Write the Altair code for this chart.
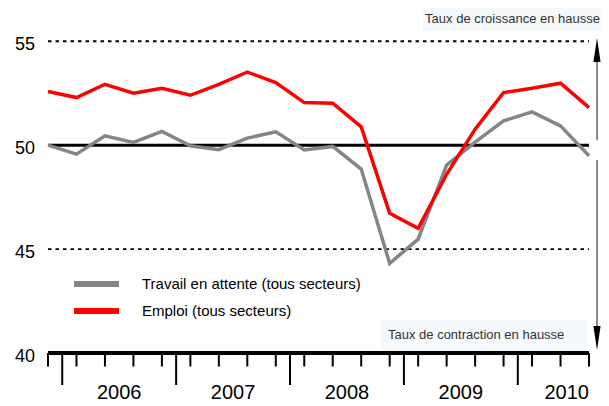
import altair as alt
import pandas as pd

# ---- data ----
periods = ["2005-T4",
           "2006-T1", "2006-T2", "2006-T3", "2006-T4",
           "2007-T1", "2007-T2", "2007-T3", "2007-T4",
           "2008-T1", "2008-T2", "2008-T3", "2008-T4",
           "2009-T1", "2009-T2", "2009-T3", "2009-T4",
           "2010-T1", "2010-T2", "2010-T3"]
travail = [50.0, 49.57, 50.45, 50.13, 50.66, 49.97, 49.78, 50.34, 50.64, 49.77,
           49.94, 48.85, 44.31, 45.48, 49.04, 50.15, 51.17, 51.6, 50.93, 49.49]
emploi = [52.58, 52.29, 52.93, 52.5, 52.74, 52.4, 52.93, 53.52, 53.01, 52.05,
          52.02, 50.88, 46.72, 46.0, 48.6, 50.77, 52.53, 52.74, 52.98, 51.81]
series_names = ["Travail en attente (tous secteurs)", "Emploi (tous secteurs)"]
series_colors = ["#858585", "#ff0000"]
y_ticks = [40, 45, 50, 55]
dashed_levels = [45, 55]
neutral_level = 50
note_up = "Taux de croissance en hausse"
note_down = "Taux de contraction en hausse"

# ---- layout ----
W, H = 541, 345
ydom = [40, 56.6]
xdom = [0, len(periods) - 1]
ppu = H / (ydom[1] - ydom[0])          # pixels per y unit
ppx = W / (xdom[1] - xdom[0])          # pixels per x unit
xs = alt.Scale(domain=xdom, nice=False, zero=False)
ys = alt.Scale(domain=ydom, nice=False, zero=False)
FONT = "Liberation Sans, Arial, Helvetica, sans-serif"

def X(f="x"):
    return alt.X(f"{f}:Q", scale=xs, axis=None)

def Y(f="y"):
    return alt.Y(f"{f}:Q", scale=ys, axis=None)

idx = list(range(len(periods)))
rows = []
for i, p in enumerate(periods):
    rows.append({"idx": i, "period": p, "value": travail[i], "series": series_names[0]})
    rows.append({"idx": i, "period": p, "value": emploi[i], "series": series_names[1]})
df = pd.DataFrame(rows)

x_end = xdom[1] + 8 / ppx   # arrow column just right of the plot
# annotation boxes
boxes = pd.DataFrame([
    {"x": xdom[1] - 166 / ppx, "x2": xdom[1] + 12 / ppx, "y": ydom[1], "y2": ydom[1] - 23 / ppu},
    {"x": xdom[1] - 208 / ppx, "x2": xdom[1] - 2 / ppx, "y": 40 + 33 / ppu, "y2": 40 + 2 / ppu},
])
box_layer = alt.Chart(boxes).mark_rect(color="#f5f9fc").encode(
    x=X(), x2="x2", y=Y(), y2="y2")

dash_layer = alt.Chart(pd.DataFrame({"y": dashed_levels, "x": xdom[0], "x2": xdom[1]})).mark_rule(
    color="black", strokeWidth=1.8, strokeDash=[3.5, 4]).encode(x=X(), x2="x2", y=Y())

neutral_layer = alt.Chart(pd.DataFrame({"y": [neutral_level], "x": xdom[0], "x2": xdom[1]})).mark_rule(
    color="black", strokeWidth=3).encode(x=X(), x2="x2", y=Y())

line_layer = alt.Chart(df).mark_line(strokeWidth=3.5, strokeJoin="miter").encode(
    x=alt.X("idx:Q", scale=xs, axis=None),
    y=alt.Y("value:Q", scale=ys, axis=None),
    color=alt.Color("series:N", scale=alt.Scale(domain=series_names, range=series_colors),
                    legend=None),
    order=alt.Order("idx:Q"),
    detail="series:N",
)

ylab = alt.Chart(pd.DataFrame({"y": y_ticks, "x": xdom[0]})).mark_text(
    font=FONT, fontSize=18, color="black", align="right", baseline="middle", dx=-13, dy=4
).encode(x=X(), y=Y(), text="y:Q")

axis_line = alt.Chart(pd.DataFrame({"y": [ydom[0]], "x": xdom[0], "x2": xdom[1]})).mark_rule(
    color="black", strokeWidth=4).encode(x=X(), x2="x2", y=Y())

short_ticks = alt.Chart(pd.DataFrame({"x": idx, "y": ydom[0], "y2": ydom[0] - 13.5 / ppu})).mark_rule(
    color="black", strokeWidth=2).encode(x=X(), y=Y(), y2="y2")

years = sorted(set(p[:4] for p in periods))
year_bounds, year_labels = [], []
for k, yr in enumerate(years):
    ids = [i for i, p in enumerate(periods) if p.startswith(yr)]
    if k > 0:
        year_bounds.append(ids[0] - 0.5)
    if len(ids) == 4:
        year_labels.append({"x": sum(ids) / 4, "y": ydom[0], "t": yr, "a": "center"})
    elif yr == years[-1]:
        year_labels.append({"x": ids[-1], "y": ydom[0], "t": yr, "a": "right"})

long_ticks = alt.Chart(pd.DataFrame({"x": year_bounds, "y": ydom[0], "y2": ydom[0] - 32 / ppu})).mark_rule(
    color="black", strokeWidth=2).encode(x=X(), y=Y(), y2="y2")

yl = pd.DataFrame(year_labels)
year_c = alt.Chart(yl[yl.a == "center"]).mark_text(
    font=FONT, fontSize=20, color="black", baseline="alphabetic", align="center", dy=46
).encode(x=X(), y=Y(), text="t:N")
year_r = alt.Chart(yl[yl.a == "right"]).mark_text(
    font=FONT, fontSize=20, color="black", baseline="alphabetic", align="right", dy=46
).encode(x=X(), y=Y(), text="t:N")

# legend (manual)
leg = pd.DataFrame({
    "series": series_names,
    "x": [26 / ppx, 26 / ppx], "x2": [71 / ppx, 71 / ppx],
    "y": [ydom[1] - 276 / ppu, ydom[1] - 303 / ppu],
    "tx": [94 / ppx, 94 / ppx],
})
leg_sw = alt.Chart(leg).mark_rule(strokeWidth=6).encode(
    x=X(), x2="x2", y=Y(),
    color=alt.Color("series:N", scale=alt.Scale(domain=series_names, range=series_colors), legend=None))
leg_tx = alt.Chart(leg).mark_text(font=FONT, fontSize=15, color="black", align="left",
                                  baseline="middle").encode(
    x=X("tx"), y=Y(), text="series:N")

notes = alt.Chart(pd.DataFrame([
    {"x": xdom[1] + 11 / ppx, "y": ydom[1] - 10.5 / ppu, "t": note_up}])).mark_text(
    font=FONT, fontSize=13, color="#333333", align="right", baseline="middle").encode(
    x=X(), y=Y(), text="t:N")
notes2 = alt.Chart(pd.DataFrame([
    {"x": xdom[1] - 201 / ppx, "y": 40 + 18.5 / ppu, "t": note_down}])).mark_text(
    font=FONT, fontSize=13, color="#333333", align="left", baseline="middle").encode(
    x=X(), y=Y(), text="t:N")

# arrows
arrow_lines = alt.Chart(pd.DataFrame([
    {"x": x_end, "y": ydom[1] - 50 / ppu, "y2": ydom[1] - 132 / ppu},
    {"x": x_end, "y": ydom[1] - 152 / ppu, "y2": ydom[1] - 322 / ppu},
])).mark_rule(color="#8a8a8a", strokeWidth=2).encode(x=X(), y=Y(), y2="y2")
head_up = alt.Chart(pd.DataFrame([{"x": x_end, "y": ydom[1] - 42 / ppu}])).mark_point(
    shape="M0,-1L0.3,1L-0.3,1Z", filled=True, size=576, color="black", opacity=1).encode(
    x=X(), y=Y())
head_dn = alt.Chart(pd.DataFrame([{"x": x_end, "y": ydom[1] - 330 / ppu}])).mark_point(
    shape="M0,1L0.3,-1L-0.3,-1Z", filled=True, size=576, color="black", opacity=1).encode(
    x=X(), y=Y())

chart = alt.layer(
    box_layer, dash_layer, neutral_layer, line_layer, ylab, axis_line, short_ticks, long_ticks,
    year_c, year_r, leg_sw, leg_tx, notes, notes2, arrow_lines, head_up, head_dn
).properties(
    width=W, height=H,
    autosize=alt.AutoSizeParams(type="none"),
    padding={"left": 40, "top": 0, "right": 12, "bottom": 53},
    background="white",
).configure_view(stroke=None)

chart.save("out.html", embed_options={"renderer": "svg", "actions": False})
